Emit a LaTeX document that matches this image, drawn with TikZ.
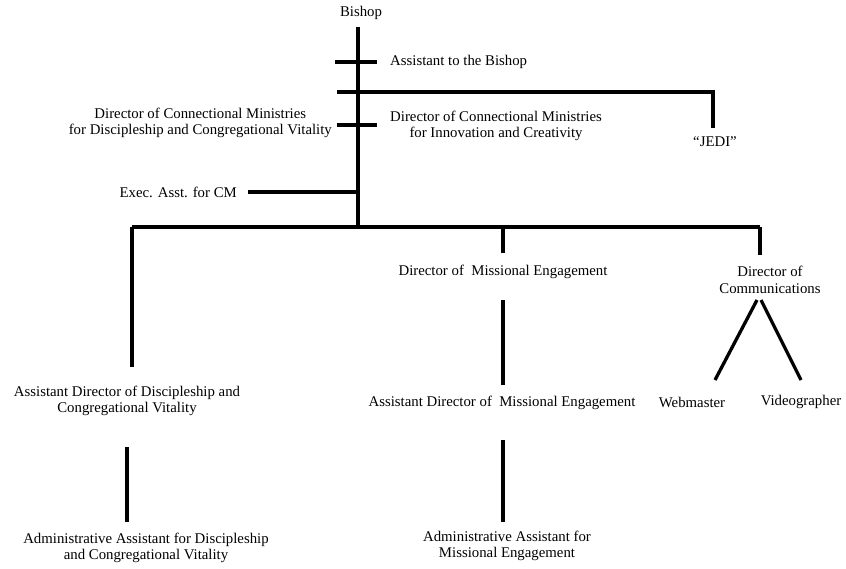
\documentclass[tikz,border=0pt]{standalone}
\usepackage{fontspec}
\setmainfont{Liberation Serif}
\begin{document}
\begin{tikzpicture}[x=1pt,y=-1pt,
  lbl/.style={inner sep=0pt, font=\fontsize{14.8}{16.6}\selectfont, align=center},
  ln/.style={line width=3.3pt}]
\useasboundingbox[fill=white] (0,0) rectangle (846,569);
% nodes
\node[lbl] (bishop) at (361,13) {Bishop};
\node[lbl,anchor=west] (asst) at (390,62) {Assistant to the Bishop};
\node[lbl,anchor=east] (dcmL) at (332,123) {Director of Connectional Ministries\\for Discipleship and Congregational Vitality};
\node[lbl,anchor=west] (dcmR) at (390,126) {Director of Connectional Ministries\\for Innovation and Creativity};
\node[lbl] (jedi) at (715,142) {``JEDI''};
\node[lbl,anchor=east] (exec) at (237,192) {Exec. Asst. for CM};
\node[lbl] (dme) at (503,272) {Director of\ \ Missional Engagement};
\node[lbl] (dcomm) at (770,280) {Director of\\Communications};
\node[lbl] (adL) at (127,401) {Assistant Director of Discipleship and\\Congregational Vitality};
\node[lbl] (adM) at (502,403) {Assistant Director of\ \ Missional Engagement};
\node[lbl] (web) at (692,402) {Webmaster};
\node[lbl] (video) at (801,402) {Videographer};
\node[lbl] (aaL) at (146,548) {Administrative Assistant for Discipleship\\and Congregational Vitality};
\node[lbl] (aaM) at (507,546) {Administrative Assistant for\\Missional Engagement};
% coordinates
\coordinate (top) at (358,27);
\coordinate (bar) at (358,227);
\coordinate (t1a) at (335,62);
\coordinate (t1b) at (377,62);
\coordinate (j0) at (337,92);
\coordinate (j1) at (713,128);
\coordinate (t2a) at (337,125);
\coordinate (t2b) at (377,125);
\coordinate (e0) at (248,192);
\coordinate (e1) at (358,192);
\coordinate (barL) at (132,227);
\coordinate (barR) at (760,227);
\coordinate (barM) at (503,227);
\coordinate (lEnd) at (132,367);
\coordinate (mEnd) at (503,253);
\coordinate (cEnd) at (760,255);
\coordinate (m2a) at (503,300);
\coordinate (m2b) at (503,385);
\coordinate (m3a) at (503,440);
\coordinate (m3b) at (503,522);
\coordinate (l3a) at (127,447);
\coordinate (l3b) at (127,522);
\coordinate (apexA) at (757,300);
\coordinate (apexB) at (761,300);
\coordinate (wEnd) at (715,380);
\coordinate (vEnd) at (801,380);
% connectors
\draw[ln] (top) -- (bar);
\draw[ln] (t1a) -- (t1b);
\draw[ln] (j0) -| (j1);
\draw[ln] (t2a) -- (t2b);
\draw[ln] (e0) -- (e1);
\draw[ln] (barL) -- (barR);
\draw[ln] (barL) -- (lEnd);
\draw[ln] (barM) -- (mEnd);
\draw[ln] (barR) -- (cEnd);
\draw[ln] (m2a) -- (m2b);
\draw[ln] (m3a) -- (m3b);
\draw[ln] (l3a) -- (l3b);
\draw[ln] (apexA) -- (wEnd);
\draw[ln] (apexB) -- (vEnd);
\end{tikzpicture}
\end{document}
